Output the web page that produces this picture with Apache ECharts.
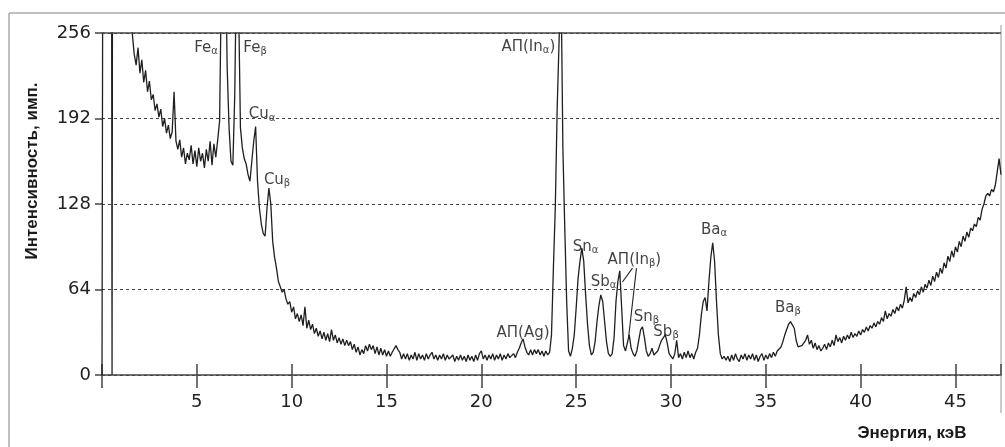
<!DOCTYPE html>
<html><head><meta charset="utf-8">
<script src="https://cdn.jsdelivr.net/npm/echarts@6/dist/echarts.min.js"></script>
<style>html,body{margin:0;padding:0;background:#fff}#c{width:1005px;height:447px}</style>
</head><body><div id="c"></div>
<script>
// Axis ticks
const yTicks = [0, 64, 128, 192, 256];
const xTickStep = 5;
const energyMin = 0, energyMax = 47.4;

// Low-energy noise spike (keV, counts) – goes off scale
const lowEnergySpike = [[0, 0], [0.03, 0], [0.05, 400], [0.5, 400], [0.53, 0], [0.56, 400], [1.4, 400]];

// Main spectrum: counts every 0.1 keV starting at 1.5 keV
const countsStart = 1.5, countsStep = 0.1;
const counts = [
  400,255,240,232,245,
  226,236,219,228,212,220,206,210,198,203,
  193,199,186,192,181,187,177,182,212,175,
  169,176,163,170,158,166,161,172,158,168,
  156,170,160,166,155,169,160,175,157,173,
  163,176,190,300,400,330,230,185,160,157,
  210,320,280,185,170,162,158,150,145,160,
  175,186,145,125,113,106,104,125,140,128,
  100,88,80,70,66,62,64,57,53,55,
  47,51,42,46,40,45,37,51,35,41,
  34,38,31,35,29,33,27,32,26,31,
  25,34,26,30,24,28,23,27,22,26,
  22,25,19,23,17,21,15,19,16,22,
  18,23,19,22,16,21,15,20,15,19,
  14,18,14,17,18,22,19,17,12,16,
  12,16,11,15,12,17,11,16,12,15,
  11,16,12,15,17,12,15,11,15,12,
  16,11,15,12,11,15,10,14,11,15,
  11,14,10,15,11,14,10,15,11,16,
  18,12,15,11,15,12,16,11,15,12,
  16,11,15,12,16,13,12,16,13,17,
  20,24,27,21,17,15,19,15,19,16,
  19,15,18,14,18,15,17,30,80,125,
  200,250,300,170,110,55,18,14,20,30,
  50,72,85,95,85,60,38,22,15,17,
  25,40,52,60,55,40,25,16,14,16,
  28,55,70,78,50,22,18,24,30,20,
  16,14,18,26,34,36,28,18,14,16,
  20,15,14,18,22,26,28,30,24,16,
  14,12,16,26,13,16,12,17,13,18,
  13,16,12,17,20,30,45,55,58,48,
  70,88,99,85,55,30,16,12,14,11,
  14,10,15,11,16,12,10,15,12,16,
  11,15,12,16,11,15,10,14,16,11,
  15,12,16,13,17,14,18,17,21,25,
  30,34,38,40,41,35,26,21,20,22,
  21,26,30,23,26,20,24,19,22,18,
  20,23,19,24,21,26,22,30,25,28,
  24,29,26,30,27,32,28,31,29,33,
  30,34,32,36,33,37,35,39,36,40,
  38,43,40,48,42,46,44,49,46,51,
  48,53,50,56,66,54,58,55,61,58,
  63,60,66,62,68,65,71,67,74,70,
  77,73,80,76,84,80,89,85,93,88,
  96,92,100,96,104,100,107,103,110,108,
  113,111,118,116,124,128,134,136,134,139,
  137,142,152,162,150
];

// Peak annotations: [energy keV, counts, text, subscript, tail]
const peakLabels = [
  [5.49, 245, 'Fe', 'α', ''],
  [8.07, 245, 'Fe', 'β', ''],
  [8.44, 195, 'Cu', 'α', ''],
  [9.23, 146, 'Cu', 'β', ''],
  [22.48, 245.5, 'АП(In', 'α', ')'],
  [22.2, 31.4, 'АП(Ag)', '', ''],
  [25.49, 96, 'Sn', 'α', ''],
  [26.44, 69.6, 'Sb', 'α', ''],
  [28.07, 86, 'АП(In', 'β', ')'],
  [28.7, 43.4, 'Sn', 'β', ''],
  [29.74, 32, 'Sb', 'β', ''],
  [32.27, 108.5, 'Ba', 'α', ''],
  [36.17, 50, 'Ba', 'β', '']
];
// Leader lines for АП(Inβ)
const leaderLines = [
  [[27.97, 80], [27.44, 69.6]],
  [[28.18, 80], [27.76, 27.7]]
];

const yName = 'Интенсивность, имп.';
const xName = 'Энергия, кэВ';

const spectrum = lowEnergySpike.concat(
  counts.map((c, i) => [+(countsStart + i * countsStep).toFixed(2), c])
);

const chart = echarts.init(document.getElementById('c'), null, {renderer: 'canvas'});
const axisColor = '#444';
const labelFont = 'DejaVu Sans';

chart.setOption({
  animation: false,
  backgroundColor: '#fff',
  grid: {left: 102, right: 4, top: 33, bottom: 72},
  xAxis: [
    {
      type: 'value', min: energyMin, max: energyMax, interval: xTickStep, position: 'bottom',
      axisLine: {show: true, lineStyle: {color: axisColor, width: 1.5}},
      axisTick: {show: true, length: 13, lineStyle: {color: axisColor, width: 1.5}},
      axisLabel: {margin: 18, fontSize: 18, fontFamily: labelFont, color: '#222',
        showMaxLabel: false, formatter: v => v === 0 ? '' : String(v)},
      splitLine: {show: false}
    },
    {
      type: 'value', min: energyMin, max: energyMax, interval: xTickStep, position: 'top', offset: -342,
      axisLine: {show: false},
      axisTick: {show: true, length: 11, lineStyle: {color: axisColor, width: 1.5}},
      axisLabel: {show: false},
      splitLine: {show: false}
    }
  ],
  yAxis: {
    type: 'value', min: yTicks[0], max: yTicks[yTicks.length - 1], interval: yTicks[1] - yTicks[0],
    axisLine: {show: false},
    axisTick: {show: true, length: 7, lineStyle: {color: axisColor, width: 1.5}},
    axisLabel: {margin: 11, fontSize: 18, fontFamily: labelFont, color: '#222'},
    splitLine: {show: true, lineStyle: {color: '#444', width: 1, type: [3, 3]}}
  },
  graphic: [
    {type: 'line', shape: {x1: 9, y1: 13, x2: 1005, y2: 13}, style: {stroke: '#aaa', lineWidth: 1.5}},
    {type: 'line', shape: {x1: 9, y1: 13, x2: 9, y2: 447}, style: {stroke: '#aaa', lineWidth: 1.5}},
    {type: 'line', shape: {x1: 1001, y1: 25, x2: 1001, y2: 413}, style: {stroke: '#aaa', lineWidth: 1.2}},
    {type: 'text', x: 32, y: 171, rotation: Math.PI / 2,
      style: {text: yName, font: 'bold 17px "Liberation Sans", Arial, sans-serif', fill: '#1a1a1a',
        textAlign: 'center', textVerticalAlign: 'middle'}},
    {type: 'text', x: 912, y: 433,
      style: {text: xName, font: 'bold 17px "Liberation Sans", Arial, sans-serif', fill: '#1a1a1a',
        textAlign: 'center', textVerticalAlign: 'middle'}}
  ],
  series: [
    {
      type: 'line', data: spectrum, showSymbol: false, symbol: 'none', clip: true,
      lineStyle: {color: '#1f1f1f', width: 1.3},
      markLine: {silent: true, symbol: 'none', label: {show: false},
        lineStyle: {color: axisColor, width: 1.5, type: 'solid'},
        data: [{yAxis: yTicks[yTicks.length - 1]}]}
    },
    {
      type: 'lines', coordinateSystem: 'cartesian2d', silent: true,
      lineStyle: {color: '#222', width: 1.1, opacity: 1},
      data: leaderLines.map(l => ({coords: l}))
    },
    {
      type: 'scatter', symbolSize: 0, silent: true, clip: false,
      data: peakLabels.map(p => ({
        value: [p[0], p[1]],
        label: {
          show: true, position: 'inside', color: '#111', textBorderWidth: 0,
          formatter: '{b|' + p[2] + '}' + (p[3] ? '{s|' + p[3] + '}' : '') + (p[4] ? '{b|' + p[4] + '}' : ''),
          rich: {
            b: {fontSize: 15, fontFamily: labelFont, color: '#111', lineHeight: 17},
            s: {fontSize: 10, fontFamily: labelFont, color: '#111', lineHeight: 10, verticalAlign: 'bottom'}
          }
        }
      }))
    }
  ]
});
</script>
</body></html>
